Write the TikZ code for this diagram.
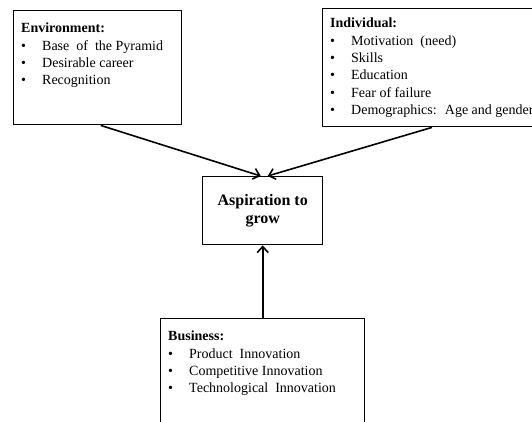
\documentclass[tikz,border=0pt]{standalone}
\usepackage{fontspec}
\setmainfont{Liberation Serif}
\usepackage{tikz}
\usetikzlibrary{arrows.meta,calc,positioning}
\newcommand{\bitem}{\par\makebox[21pt][l]{\textbullet}}
\newcommand{\boxtext}[4][22pt]{\parbox[t][#3][t]{#2}{\rule{0pt}{#1}#4}}
\tikzset{%
	factor/.style = {draw, line width=1.4pt, anchor=north west, inner xsep=7.5pt, inner ysep=0pt, font=\fontsize{14}{17.4}\selectfont},
	target/.style = {draw, line width=1.4pt, anchor=north west, minimum width=120pt, minimum height=68pt, align=center, font=\fontsize{16}{18}\selectfont\bfseries},
	arrow/.style  = {line width=1.6pt, -{Straight Barb[length=6pt,width=11pt]}},
}
\begin{document}
\begin{tikzpicture}[x=1pt,y=-1pt]
	\useasboundingbox (0,0) rectangle (532,421);
	\clip (0,0) rectangle (532,421);
	\node[factor] (env) at (13,10) {\boxtext{153pt}{114pt}{\textbf{Environment:}%
		\bitem Base~ of~ the Pyramid\bitem Desirable career\bitem Recognition}};
	\node[factor] (ind) at (322,8) {\boxtext[19pt]{230pt}{118pt}{\textbf{Individual:}%
		\bitem Motivation~ (need)\bitem Skills\bitem Education\bitem Fear of failure\bitem Demographics:~ Age and gender}};
	\node[target] (asp) at (202,176) {Aspiration to\\grow};
	\node[factor] (biz) at (160,318) {\boxtext{189pt}{130pt}{\textbf{Business:}%
		\bitem Product~ Innovation\bitem Competitive Innovation\bitem Technological~ Innovation}};
	% connectors into the aspiration box
	\draw[arrow] ([xshift=3pt]env.south) -- ([xshift=-2pt]asp.north);
	\draw[arrow] ([xshift=110pt]ind.south west) -- ([xshift=5pt]asp.north);
	\draw[arrow] (biz.north) -- (asp.south);
\end{tikzpicture}
\end{document}
